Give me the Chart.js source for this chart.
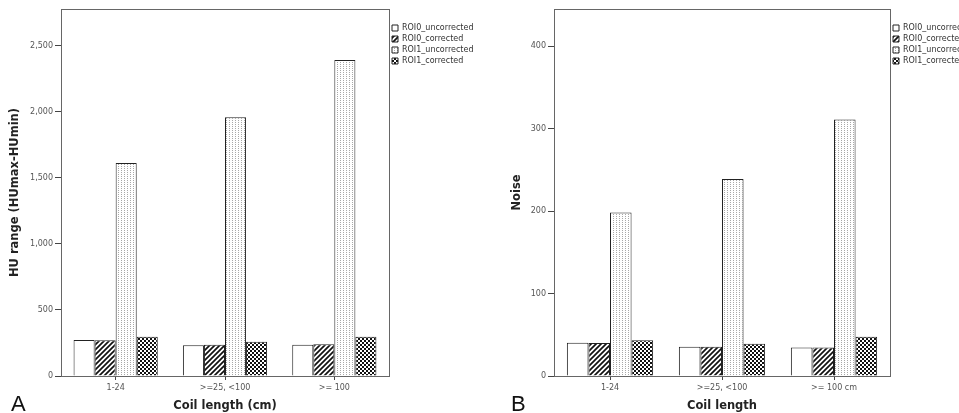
<!DOCTYPE html>
<html>
<head>
<meta charset="utf-8">
<script src="https://cdn.jsdelivr.net/npm/chart.js@4.4.1/dist/chart.umd.min.js"></script>
<style>
  html, body { margin: 0; padding: 0; background: #fff; overflow: hidden; }
  .panel { position: absolute; top: 0; }
</style>
</head>
<body>
<div class="panel" style="left:0"><canvas id="chartA" width="480" height="413"></canvas></div>
<div class="panel" style="left:480px"><canvas id="chartB" width="479" height="413"></canvas></div>
<script>
// series names shared by both panels
const seriesNames = ['ROI0_uncorrected', 'ROI0_corrected', 'ROI1_uncorrected', 'ROI1_corrected'];

// panel A: HU range
const categoriesA = ['1-24', '>=25, <100', '>= 100'];
const ticksA = [0, 500, 1000, 1500, 2000, 2500];
const roi0UncorrectedA = [273, 232, 237];
const roi0CorrectedA = [270, 237, 240];
const roi1UncorrectedA = [1614, 1960, 2394];
const roi1CorrectedA = [298, 260, 298];

// panel B: noise
const categoriesB = ['1-24', '>=25, <100', '>= 100 cm'];
const ticksB = [0, 100, 200, 300, 400];
const roi0UncorrectedB = [40.4, 35.5, 34.7];
const roi0CorrectedB = [40, 35.5, 34.7];
const roi1UncorrectedB = [198.4, 238.8, 311];
const roi1CorrectedB = [43.2, 39.2, 47.7];

function makeTile(w, h, draw) {
  const c = document.createElement('canvas');
  c.width = w; c.height = h;
  const g = c.getContext('2d');
  g.fillStyle = '#fff';
  g.fillRect(0, 0, w, h);
  draw(g);
  return c.getContext('2d').createPattern(c, 'repeat');
}

// fill patterns, SPSS style
const plainFill = '#ffffff';
const stripeFill = makeTile(5, 5, g => {
  g.strokeStyle = '#111';
  g.lineWidth = 1.7;
  g.beginPath();
  g.moveTo(-1, 6); g.lineTo(6, -1);
  g.moveTo(-1, 1); g.lineTo(1, -1);
  g.moveTo(4, 6); g.lineTo(6, 4);
  g.stroke();
});
const dotFill = makeTile(3, 2, g => {
  g.fillStyle = '#a8a8a8';
  g.fillRect(1, 0, 1, 1);
});
const checkFill = makeTile(4, 4, g => {
  g.fillStyle = '#111';
  g.fillRect(0, 0, 2, 2);
  g.fillRect(2, 2, 2, 2);
});
const fills = [plainFill, stripeFill, dotFill, checkFill];

const framePlugin = {
  id: 'frame',
  afterDraw(chart) {
    const a = chart.chartArea;
    const ctx = chart.ctx;
    ctx.save();
    ctx.strokeStyle = '#666';
    ctx.lineWidth = 1;
    ctx.strokeRect(Math.round(a.left) + 0.5, Math.round(a.top) + 0.5,
      Math.round(a.right - a.left), Math.round(a.bottom - a.top));
    ctx.restore();
  }
};

const letterPlugin = {
  id: 'letter',
  afterDraw(chart, args, opts) {
    const ctx = chart.ctx;
    ctx.save();
    ctx.fillStyle = '#111';
    ctx.font = '22px "Liberation Sans"';
    ctx.textBaseline = 'alphabetic';
    ctx.fillText(opts.text, opts.x, opts.y);
    ctx.restore();
  }
};

function createGraph(id, categories, values, yMax, tickValues, yTitle, xTitle, axisWidth, titlePad, legendWidth, letter, letterX) {
  const datasets = seriesNames.map((name, i) => ({
    label: name,
    data: values[i],
    backgroundColor: fills[i],
    borderColor: '#222',
    borderWidth: 1,
    categoryPercentage: 0.77,
    barPercentage: 1.0
  }));

  return new Chart(document.getElementById(id), {
    type: 'bar',
    data: { labels: categories, datasets },
    plugins: [framePlugin, letterPlugin],
    options: {
      responsive: false,
      animation: false,
      devicePixelRatio: 1,
      layout: { padding: { top: 9, left: 0, right: 0, bottom: 0 } },
      scales: {
        x: {
          offset: true,
          grid: { offset: false, drawOnChartArea: false, drawTicks: true, tickLength: 4, color: '#444' },
          border: { color: '#555' },
          ticks: { color: '#555', font: { family: 'DejaVu Sans', size: 8 }, padding: 3, maxRotation: 0 },
          title: { display: true, text: xTitle, color: '#222', font: { family: 'DejaVu Sans', size: 11.5, weight: 'bold' }, padding: { top: 0, bottom: 0 } },
          afterFit(scale) { scale.height = 37; }
        },
        y: {
          min: 0,
          max: yMax,
          grid: { drawOnChartArea: false, drawTicks: true, tickLength: 6, color: '#444' },
          border: { color: '#555' },
          ticks: { color: '#555', font: { family: 'DejaVu Sans', size: 8 }, padding: 2 },
          afterBuildTicks(scale) { scale.ticks = tickValues.map(v => ({ value: v })); },
          title: { display: true, text: yTitle, color: '#222', font: { family: 'DejaVu Sans', size: 11.5, weight: 'bold' }, padding: { top: titlePad, bottom: 0 } },
          afterFit(scale) { scale.width = axisWidth; }
        }
      },
      plugins: {
        tooltip: { enabled: false },
        legend: {
          position: 'right',
          align: 'start',
          maxWidth: legendWidth,
          title: { display: true, text: '', padding: 0, font: { size: 12, lineHeight: 1 } },
          labels: {
            boxWidth: 6,
            boxHeight: 6,
            padding: 3,
            color: '#333',
            font: { family: 'DejaVu Sans', size: 8 }
          }
        },
        letter: { text: letter, x: letterX, y: 411 }
      }
    }
  });
}

createGraph('chartA', categoriesA,
  [roi0UncorrectedA, roi0CorrectedA, roi1UncorrectedA, roi1CorrectedA],
  2780, ticksA, 'HU range (HUmax-HUmin)', 'Coil length (cm)', 61, 8, 91, 'A', 11);

createGraph('chartB', categoriesB,
  [roi0UncorrectedB, roi0CorrectedB, roi1UncorrectedB, roi1CorrectedB],
  445, ticksB, 'Noise', 'Coil length', 74, 30, 69, 'B', 31);
</script>
</body>
</html>
